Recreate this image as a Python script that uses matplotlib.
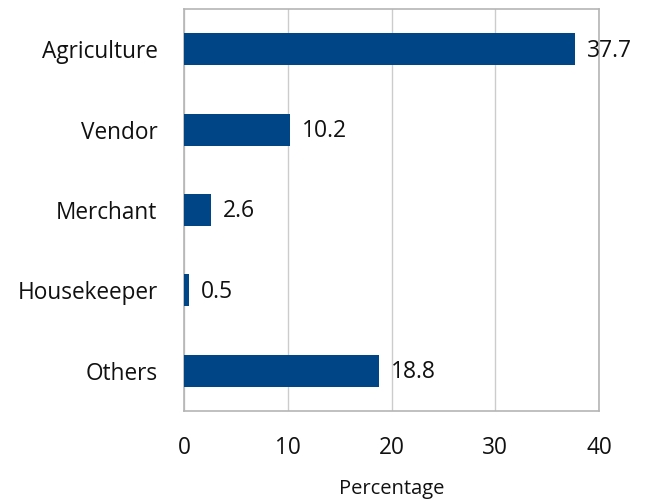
import matplotlib.pyplot as plt

# Occupation shares (percent)
categories = ['Agriculture', 'Vendor', 'Merchant', 'Housekeeper', 'Others']
values = [37.7, 10.2, 2.6, 0.5, 18.8]
xticks = [0, 10, 20, 30, 40]

plt.rcParams['font.family'] = ['Open Sans', 'DejaVu Sans']

fig = plt.figure(figsize=(6.49, 5.0), dpi=100)
ax = fig.add_axes([0.2835, 0.178, 0.6395, 0.804])

ypos = list(range(len(categories)))
ax.barh(ypos, values, height=0.4, color='#004586', zorder=3)
for y, v in zip(ypos, values):
    ax.annotate(f'{v}', (v, y), xytext=(8.5, -1), textcoords='offset points',
                va='center', ha='left', fontsize=16.5, color='#111111')

ax.set_ylim(len(categories) - 0.5, -0.5)
ax.set_yticks(ypos)
ax.set_yticklabels(categories, fontsize=16.3)
ax.set_xlim(0, 40)
ax.set_xticks(xticks)
ax.set_xticklabels([str(t) for t in xticks], fontsize=16.3)
ax.tick_params(axis='both', length=0, colors='#111111')
ax.tick_params(axis='y', pad=19)
ax.tick_params(axis='x', pad=18)
ax.set_xlabel('Percentage', fontsize=14.5, labelpad=14, color='#111111')

ax.grid(axis='x', color='#cccccc', linewidth=1, zorder=0)
for s in ax.spines.values():
    s.set_color('#b5b5b5')
    s.set_linewidth(1.2)

fig.savefig('out.png', dpi=100)
